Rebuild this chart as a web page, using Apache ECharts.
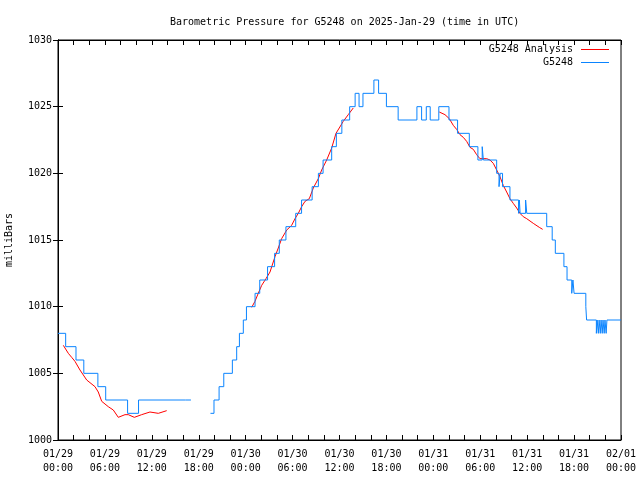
<!DOCTYPE html>
<html><head><meta charset="utf-8">
<script src="https://cdn.jsdelivr.net/npm/echarts@6/dist/echarts.min.js"></script>
<style>html,body{margin:0;padding:0;background:#fff}#c{width:640px;height:480px}</style>
</head><body><div id="c"></div>
<script>
const titleText = 'Barometric Pressure for G5248 on 2025-Jan-29 (time in UTC)';
const seriesNames = ['G5248 Analysis', 'G5248'];
const seriesColors = ['#ff0000', '#0a84ff'];
const tickLabels = ['01/29\n00:00','01/29\n06:00','01/29\n12:00','01/29\n18:00','01/30\n00:00','01/30\n06:00','01/30\n12:00','01/30\n18:00','01/31\n00:00','01/31\n06:00','01/31\n12:00','01/31\n18:00','02/01\n00:00'];
// hours since 01/29 00:00 UTC
const stationHours = [0,0.98,2.3,3.3,5.1,6.1,8.9,10.3,16.3,17,
 19.5,19.95,20.6,21.2,22.3,22.85,23.2,23.7,24.1,25.2,25.8,26.8,27.7,28.3,29.15,30.4,31.15,32.5,33.3,33.9,35.0,35.6,36.3,37.3,38.0,38.5,39.0,40.4,41.0,42.0,43.5,45.9,46.5,47.1,47.6,48.7,50.0,51.1,52.6,53.7,54.25,54.4,56.1,56.4,56.55,56.85,57.8,58.9,59.0,59.1,59.8,59.95,62.5,63.2,63.6,64.7,65.1,65.7,65.85,66.0,67.5,67.6,68.85,68.95,69.1,69.2,69.35,69.45,69.6,69.7,69.85,69.95,70.1,70.2,72];
const stationPressure = [1008,1007,1006,1005,1004,1003,1002,1003,1003,null,
 1002,1003,1004,1005,1006,1007,1008,1009,1010,1011,1012,1013,1014,1015,1016,1017,1018,1019,1020,1021,1022,1023,1024,1025,1026,1025,1026,1027,1026,1025,1024,1025,1024,1025,1024,1025,1024,1023,1022,1021,1022,1021,1020,1019,1020,1019,1018,1017,1018,1017,1018,1017,1016,1015,1014,1013,1012,1011,1012,1011,1010,1009,1008,1009,1008,1009,1008,1009,1008,1009,1008,1009,1008,1009,1009];
const analysisHours = [0.68,1.32,1.75,2.17,2.81,3.67,4.73,5.15,5.59,6.43,7.07,7.71,8.57,8.99,9.76,10.7,11.76,12.83,13.9,14.5,
 24.77,25.19,25.61,26.05,26.6,27.11,27.75,28.17,28.6,29.25,29.88,30.31,30.73,31.16,31.59,32.14,32.65,33.29,33.72,34.36,35.0,35.55,35.97,36.48,37.12,37.76,38.5,
 48.76,49.49,50.04,50.55,50.98,51.41,51.83,52.26,52.69,53.11,53.54,53.96,54.82,55.24,55.67,56.1,56.52,56.94,57.38,57.8,58.22,58.66,59.08,59.5,59.94,60.78,61.55,61.98];
const analysisPressure = [1007.1,1006.5,1006.2,1005.9,1005.25,1004.5,1004.0,1003.6,1002.9,1002.5,1002.25,1001.7,1001.9,1001.9,1001.7,1001.9,1002.1,1002.0,1002.2,null,
 1009.95,1010.4,1011.0,1011.6,1012.1,1012.6,1013.75,1014.4,1015.1,1015.75,1016.1,1016.6,1017.0,1017.5,1017.9,1018.1,1018.9,1019.6,1020.25,1021.0,1021.9,1023.0,1023.4,1023.9,1024.4,1024.9,null,
 1024.6,1024.4,1024.1,1023.6,1023.3,1022.9,1022.7,1022.4,1021.95,1021.8,1021.4,1021.1,1021.1,1021.0,1020.75,1020.25,1019.75,1019.1,1018.6,1018.1,1017.75,1017.4,1017.0,1016.75,1016.6,1016.25,1015.95,1015.8];

const zip = (a,b) => a.map((x,i) => [x, b[i] === null ? '-' : b[i]]);
const mono = 'DejaVu Sans Mono';
const ch = echarts.init(document.getElementById('c'), null, {renderer:'canvas'});
const axisCommon = {
  axisLine:{show:true,lineStyle:{color:'#000',width:1}},
  axisTick:{show:true,inside:true,length:5,lineStyle:{color:'#000'}},
  splitLine:{show:false}
};
// key (legend) drawn as text + sample line, top-right inside the plot
const legendGraphics = [];
seriesNames.forEach((nm, i) => {
  const y = 49.5 + i * 13;
  legendGraphics.push({type:'text', right:67, top:y - 5,
    style:{text:nm, font:'10px "DejaVu Sans Mono"', fill:'#000', textAlign:'right'}});
  legendGraphics.push({type:'line', shape:{x1:581, y1:y, x2:609, y2:y},
    style:{stroke:seriesColors[i], lineWidth:1}});
});
ch.setOption({
  animation:false,
  backgroundColor:'#fff',
  title:{text:titleText,left:165,top:12,textStyle:{fontFamily:mono,fontSize:10,fontWeight:'normal',color:'#000'}},
  legend:{show:false},
  graphic:legendGraphics,
  grid:{left:58,right:19,top:40,bottom:40,containLabel:false,outerBoundsMode:'none',show:true,borderColor:'#000',borderWidth:1},
  xAxis:[
    Object.assign({type:'value',min:0,max:72,interval:6,position:'bottom',
      minorTick:{show:true,splitNumber:3,length:5,lineStyle:{color:'#000'}},
      axisLabel:{fontFamily:mono,fontSize:10,color:'#000',margin:7,lineHeight:14,
        formatter:v=>tickLabels[Math.round(v/6)]}},axisCommon),
    Object.assign({type:'value',min:0,max:72,interval:6,position:'top',
      minorTick:{show:true,splitNumber:3,length:5,lineStyle:{color:'#000'}},
      axisLabel:{show:false}},axisCommon)
  ],
  yAxis:[
    Object.assign({type:'value',min:1000,max:1030,interval:5,position:'left',
      name:'milliBars',nameLocation:'middle',nameGap:44,nameRotate:90,
      nameTextStyle:{fontFamily:mono,fontSize:10,color:'#000'},
      axisLabel:{fontFamily:mono,fontSize:10,color:'#000',margin:6,formatter:v=>String(v)}},axisCommon),
    Object.assign({type:'value',min:1000,max:1030,interval:5,position:'right',
      axisLabel:{show:false}},axisCommon)
  ],
  series:[
    {name:seriesNames[0],type:'line',data:zip(analysisHours,analysisPressure),
     showSymbol:false,symbol:'none',connectNulls:false,
     lineStyle:{color:seriesColors[0],width:1},itemStyle:{color:seriesColors[0]}},
    {name:seriesNames[1],type:'line',step:'end',data:zip(stationHours,stationPressure),
     showSymbol:false,symbol:'none',connectNulls:false,
     lineStyle:{color:seriesColors[1],width:1},itemStyle:{color:seriesColors[1]}}
  ]
});
</script></body></html>
